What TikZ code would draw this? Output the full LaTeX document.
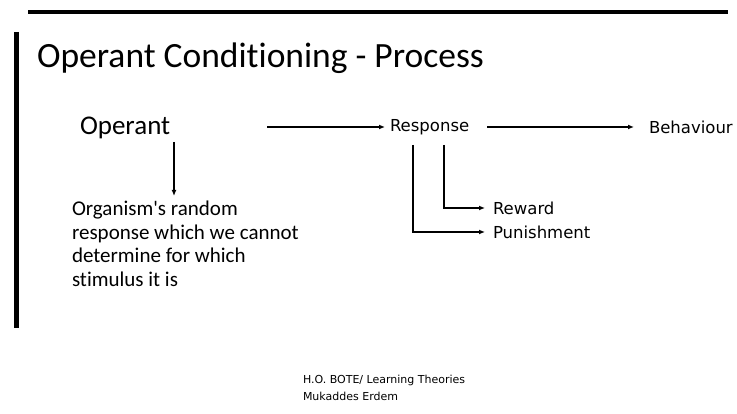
\documentclass[tikz,border=0pt]{standalone}
\usepackage{fontspec}
\setmainfont{Carlito}[Ligatures=NoCommon]
\newfontfamily\tahomalike{DejaVu Sans}
\usetikzlibrary{arrows.meta}
\begin{document}
\begin{tikzpicture}[x=1pt,y=-1pt,
  every node/.style={inner sep=0pt,outer sep=0pt},
  arr/.style={line width=1.4pt,-{Latex[length=6pt,width=5pt]}},
  lbl/.style={font=\tahomalike\fontsize{16.5}{19}\selectfont,anchor=west},
  desc/.style={font=\fontsize{21}{23.5}\selectfont,align=left,anchor=north west}]
\useasboundingbox[fill=white] (0,0) rectangle (737,414);
% frame lines
\draw[line width=4pt] (28,12) -- (728,12);
\draw[line width=5pt] (16,32) -- (16,328);
% title
\node[anchor=base west,font=\fontsize{35.5}{40}\selectfont] (title) at (37,68) {Operant Conditioning - Process};
% nodes
\node[anchor=base west,font=\fontsize{27}{30}\selectfont] (op) at (80,135) {Operant};
\node[lbl] (resp) at (390,127) {Response};
\node[lbl] (beh) at (649,127) {Behaviour};
\node[lbl] (rew) at (493,208) {Reward};
\node[lbl] (pun) at (493,232) {Punishment};
\node[desc] (desc) at (72,201) {Organism\textquotesingle s random\\response which we cannot\\determine for which\\stimulus it is};
\node[anchor=north west,align=left,font=\tahomalike\fontsize{11}{17}\selectfont] (foot) at (303,375) {H.O. BOTE/ Learning Theories\\Mukaddes Erdem};
% connector helper coordinates
\coordinate (opA) at (174,142);
\coordinate (opR) at (267,127);
\coordinate (respB) at (487,127);
\coordinate (rv1) at (413,145);
\coordinate (rv2) at (444,145);
% connectors
\draw[arr] (opA) -- ([yshift=5pt]opA |- desc.north);
\draw[arr,shorten >=5pt] (opR) -- (resp.west);
\draw[arr,shorten >=15pt] (respB) -- (beh.west);
\draw[arr,shorten >=8pt] (rv2) |- (rew.west);
\draw[arr,shorten >=8pt] (rv1) |- (pun.west);
\end{tikzpicture}
\end{document}
